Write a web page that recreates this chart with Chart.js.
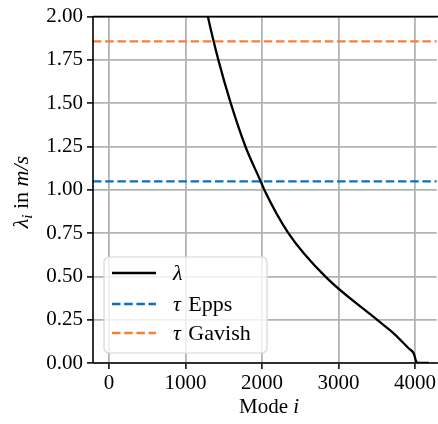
<!DOCTYPE html>
<html>
<head>
<meta charset="utf-8">
<style>
  html, body { margin: 0; padding: 0; background: #fff; }
  #wrap { width: 438px; height: 424px; position: relative; }
</style>
<script src="https://cdn.jsdelivr.net/npm/chart.js@4"></script>
</head>
<body>
<div id="wrap"><canvas id="chart" width="438" height="424"></canvas></div>
<script>
// eigenvalue curve lambda_i against mode index
var modes   = [1150, 1293, 1430, 1592, 1784, 1983, 2030, 2345, 2826, 3503, 3724, 3919, 3984, 4014, 4030, 4180];
var lambdas = [2.32, 2.00, 1.75, 1.50, 1.25, 1.049, 1.00, 0.75, 0.50, 0.25, 0.170, 0.084, 0.055, 0.010, 0.0, 0.0];

// thresholds
var tauEpps = 1.049;
var tauGavish = 1.857;

var xTicks = [0, 1000, 2000, 3000, 4000];
var yTicks = [0, 0.25, 0.5, 0.75, 1, 1.25, 1.5, 1.75, 2];
var xMin = -208, xMax = 4284;

var FONT = '"Liberation Serif", "DejaVu Serif", serif';
var FS = 21;
var BLUE = '#0a72bb', ORANGE = '#f97f36';

function pts(xs, ys) {
  return xs.map(function (x, i) { return { x: x, y: ys[i] }; });
}

// spines, axis titles and legend, drawn in matplotlib style
var decor = {
  id: 'decor',
  afterDatasetsDraw: function (chart) {
    var ctx = chart.ctx, a = chart.chartArea;
    ctx.save();
    ctx.strokeStyle = '#000';
    ctx.lineWidth = 1.6;
    ctx.beginPath();
    ctx.moveTo(a.left, a.top); ctx.lineTo(a.right + 2, a.top);
    ctx.moveTo(a.left, a.top); ctx.lineTo(a.left, a.bottom);
    ctx.moveTo(a.left, a.bottom); ctx.lineTo(a.right + 2, a.bottom);
    ctx.stroke();

    // x title: Mode i
    ctx.fillStyle = '#000';
    ctx.textBaseline = 'alphabetic';
    ctx.font = FS + 'px ' + FONT;
    var t1 = 'Mode ', w1 = ctx.measureText(t1).width;
    ctx.font = 'italic ' + FS + 'px ' + FONT;
    var w2 = ctx.measureText('i').width;
    var x0 = 269 - (w1 + w2) / 2;
    ctx.font = FS + 'px ' + FONT;
    ctx.fillText(t1, x0, 413);
    ctx.font = 'italic ' + FS + 'px ' + FONT;
    ctx.fillText('i', x0 + w1, 413);

    // y title: lambda_i in m/s
    ctx.translate(28, 192);
    ctx.rotate(-Math.PI / 2);
    var parts = [
      { t: 'λ', f: 'italic 22px ' + FONT, dy: 0 },
      { t: 'i', f: 'italic 15px ' + FONT, dy: 4 },
      { t: ' in ', f: '22px ' + FONT, dy: 0 },
      { t: 'm/s', f: 'italic 22px ' + FONT, dy: 0 }
    ];
    var tw = 0;
    parts.forEach(function (p) { ctx.font = p.f; p.w = ctx.measureText(p.t).width; tw += p.w; });
    var cx = -tw / 2;
    parts.forEach(function (p) { ctx.font = p.f; ctx.fillText(p.t, cx, p.dy); cx += p.w; });
    ctx.setTransform(1, 0, 0, 1, 0, 0);

    // legend box
    var bx = 104, by = 257, bw = 163, bh = 96, r = 5;
    ctx.beginPath();
    ctx.moveTo(bx + r, by);
    ctx.arcTo(bx + bw, by, bx + bw, by + bh, r);
    ctx.arcTo(bx + bw, by + bh, bx, by + bh, r);
    ctx.arcTo(bx, by + bh, bx, by, r);
    ctx.arcTo(bx, by, bx + bw, by, r);
    ctx.closePath();
    ctx.fillStyle = 'rgba(255,255,255,0.8)';
    ctx.fill();
    ctx.strokeStyle = '#d6d6d6';
    ctx.lineWidth = 1.2;
    ctx.stroke();

    var rows = [273, 304, 333];
    chart.data.datasets.forEach(function (ds, i) {
      var y = rows[i];
      ctx.strokeStyle = ds.borderColor;
      ctx.lineWidth = ds.borderWidth;
      ctx.setLineDash(ds.borderDash || []);
      ctx.beginPath();
      ctx.moveTo(112, y); ctx.lineTo(156, y);
      ctx.stroke();
      ctx.setLineDash([]);
      ctx.fillStyle = '#000';
      ctx.textBaseline = 'middle';
      var sym = ds.label.split(' ')[0], rest = ds.label.slice(sym.length);
      ctx.font = 'italic 22px ' + FONT;
      ctx.fillText(sym, 173, y + 1);
      var sw = ctx.measureText(sym).width;
      ctx.font = '22px ' + FONT;
      ctx.fillText(rest, 173 + sw + 2, y + 1);
    });
    ctx.restore();
  }
};

new Chart(document.getElementById('chart'), {
  type: 'line',
  data: {
    datasets: [{
      label: 'λ',
      data: pts(modes, lambdas),
      borderColor: '#000',
      borderWidth: 2.3,
      pointRadius: 0,
      cubicInterpolationMode: 'monotone',
      fill: false
    }, {
      label: 'τ Epps',
      data: pts([xMin, xMax], [tauEpps, tauEpps]),
      borderColor: BLUE,
      borderWidth: 2.3,
      borderDash: [8.5, 3.7],
      pointRadius: 0,
      fill: false
    }, {
      label: 'τ Gavish',
      data: pts([xMin, xMax], [tauGavish, tauGavish]),
      borderColor: ORANGE,
      borderWidth: 2.3,
      borderDash: [8.5, 3.7],
      pointRadius: 0,
      fill: false
    }]
  },
  options: {
    responsive: false,
    animation: false,
    layout: { padding: { top: 14, right: 0, left: 0, bottom: 0 } },
    plugins: { legend: { display: false }, tooltip: { enabled: false } },
    scales: {
      x: {
        type: 'linear',
        min: xMin,
        max: xMax,
        afterBuildTicks: function (s) { s.ticks = xTicks.map(function (v) { return { value: v }; }); },
        afterFit: function (s) { s.height = 61; },
        border: { display: false },
        grid: { color: '#b3b3b3', lineWidth: 1.8, tickColor: '#000', tickLength: 6, tickWidth: 1.5 },
        ticks: {
          color: '#000', font: { family: FONT, size: FS }, padding: 2, maxRotation: 0,
          callback: function (v) { return String(v); }
        }
      },
      y: {
        min: 0,
        max: 2,
        afterBuildTicks: function (s) { s.ticks = yTicks.map(function (v) { return { value: v }; }); },
        afterFit: function (s) { s.width = 93; },
        border: { display: false },
        grid: { color: '#b3b3b3', lineWidth: 1.8, tickColor: '#000', tickLength: 6, tickWidth: 1.5 },
        ticks: {
          color: '#000', font: { family: FONT, size: FS }, padding: 4,
          callback: function (v) { return v.toFixed(2); }
        }
      }
    }
  },
  plugins: [decor]
});
</script>
</body>
</html>
